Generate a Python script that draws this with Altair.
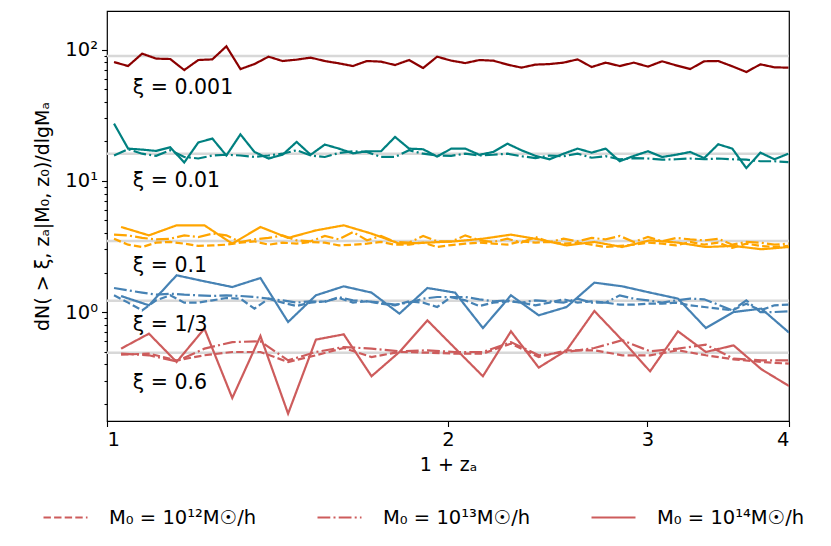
import altair as alt
import pandas as pd

# x grids (1 + z_a)
x_fine = [1.0144, 1.0438, 1.0740, 1.1051, 1.1371, 1.1700, 1.2039, 1.2388, 1.2746, 1.3116,
          1.3495, 1.3886, 1.4289, 1.4702, 1.5128, 1.5570, 1.6021, 1.6485, 1.6962, 1.7453,
          1.7959, 1.8479, 1.9014, 1.9564, 2.0131, 2.0714, 2.1314, 2.1931, 2.2566, 2.3219,
          2.3892, 2.4583, 2.5295, 2.6028, 2.6781, 2.7557, 2.8355, 2.9184, 3.0029, 3.0903,
          3.1798, 3.2718, 3.3666, 3.4641, 3.5645, 3.6677, 3.7739, 3.8832, 3.9957]
x_coarse = [1.029, 1.089, 1.152, 1.219, 1.290, 1.366, 1.445, 1.529, 1.618, 1.712,
            1.812, 1.918, 2.029, 2.147, 2.273, 2.405, 2.545, 2.693, 2.850, 3.016,
            3.192, 3.378, 3.574, 3.782, 4.0]

# xi = 0.001
dr_m14 = [80.4, 75.0, 93.2, 85.4, 84.8, 69.9, 83.3, 84.3, 106, 71.1,
          77.6, 88.4, 81.9, 83.9, 86.9, 81.9, 78.6, 75.0, 81.9, 81.0,
          76.3, 83.3, 72.4, 88.4, 82.4, 79.0, 83.3, 82.4, 76.9, 72.9,
          76.9, 77.6, 79.6, 84.3, 73.7, 79.6, 75.0, 79.6, 74.2, 81.5,
          75.9, 71.1, 81.5, 81.9, 74.6, 67.5, 77.3, 73.3, 72.9]
# xi = 0.01
teal_m13 = [15.6, 17.4, 16.1, 15.5, 17.1, 15.2, 14.8, 15.6, 15.8, 15.6,
            15.2, 15.6, 16.1, 17.1, 15.6, 15.2, 16.3, 16.8, 16.6, 15.2,
            15.2, 17.1, 16.1, 15.6, 15.5, 16.1, 15.6, 15.8, 16.1, 15.4,
            14.9, 15.6, 15.4, 16.1, 15.0, 15.4, 14.6, 14.9, 14.8, 14.5,
            14.6, 14.8, 14.6, 14.8, 14.6, 14.5, 14.1, 14.1, 13.9]
teal_m14 = [27.3, 17.6, 17.3, 16.9, 18.0, 13.8, 19.6, 21.0, 15.6, 22.6,
            16.6, 14.8, 15.8, 19.8, 15.8, 18.9, 17.6, 16.2, 16.8, 16.8,
            21.6, 17.6, 17.4, 15.3, 17.6, 17.6, 15.8, 16.6, 19.2, 17.1,
            15.5, 14.6, 16.1, 17.6, 16.4, 17.6, 14.1, 15.5, 16.8, 15.2,
            15.8, 16.6, 14.9, 19.0, 17.6, 12.5, 16.4, 14.6, 16.1]
# xi = 0.1
or_m12 = [3.62, 3.26, 3.13, 3.38, 3.42, 3.32, 3.19, 3.22, 3.26, 3.38,
          3.46, 3.26, 3.38, 3.32, 3.42, 3.38, 3.22, 3.26, 3.32, 3.42,
          3.26, 3.26, 3.38, 3.13, 3.24, 3.32, 3.38, 3.32, 3.26, 3.46,
          3.38, 3.42, 3.32, 3.38, 3.26, 3.13, 3.19, 3.26, 3.38, 3.32,
          3.22, 3.42, 3.26, 3.38, 3.08, 3.32, 3.19, 3.13, 3.19]
or_m13 = [3.89, 3.84, 3.67, 3.58, 3.62, 3.84, 3.73, 3.96, 3.84, 3.42,
          3.58, 3.67, 3.84, 3.52, 3.46, 3.80, 3.58, 4.07, 3.52, 3.80,
          3.42, 3.38, 3.80, 3.46, 3.44, 3.84, 3.52, 3.42, 3.62, 3.38,
          3.73, 3.42, 3.62, 3.46, 3.67, 3.58, 3.80, 3.42, 3.73, 3.46,
          3.67, 3.58, 3.52, 3.62, 3.26, 3.42, 3.38, 3.26, 3.32]
or_m14 = [4.45, 3.84, 4.58, 4.58, 3.32, 4.45, 3.67, 4.19, 4.58, 3.96,
          3.32, 3.38, 3.46, 3.62, 3.89, 3.58, 3.22, 3.42, 3.13, 3.52,
          3.38, 3.13, 3.19, 3.01, 3.13]
# xi = 1/3
bl_m12 = [1.341, 1.179, 1.030, 1.228, 1.341, 1.179, 1.179, 1.228, 1.279, 1.264,
          1.061, 1.264, 1.179, 1.112, 1.179, 1.207, 1.279, 1.179, 1.207, 1.158,
          1.125, 1.207, 1.179, 1.092, 1.300, 1.228, 1.112, 1.179, 1.207, 1.179,
          1.125, 1.179, 1.250, 1.179, 1.207, 1.179, 1.138, 1.138, 1.158, 1.158,
          1.179, 1.125, 1.092, 1.061, 1.030, 1.158, 1.030, 1.125, 1.138]
bl_m13 = [1.525, 1.463, 1.405, 1.356, 1.380, 1.356, 1.341, 1.325, 1.341, 1.325,
          1.302, 1.264, 1.228, 1.179, 1.207, 1.192, 1.302, 1.228, 1.207, 1.179,
          1.138, 1.179, 1.264, 1.302, 1.300, 1.302, 1.250, 1.207, 1.228, 1.179,
          1.228, 1.207, 1.179, 1.264, 1.179, 1.179, 1.341, 1.264, 1.228, 1.179,
          1.228, 1.264, 1.250, 1.138, 1.030, 1.228, 1.000, 1.000, 1.012]
bl_m14 = [1.324, 1.125, 1.905, 1.714, 1.551, 1.816, 0.839, 1.341, 1.570, 1.406,
          0.972, 1.524, 1.406, 0.755, 1.341, 0.944, 1.092, 1.675, 1.570, 1.406,
          1.265, 0.755, 1.000, 1.061, 0.697]
# xi = 0.6
rd_m12 = [0.473, 0.482, 0.428, 0.468, 0.496, 0.496, 0.416, 0.468, 0.532, 0.454,
          0.496, 0.490, 0.482, 0.482, 0.574, 0.454, 0.511, 0.511, 0.468, 0.468,
          0.511, 0.468, 0.436, 0.416, 0.404]
rd_m13 = [0.482, 0.468, 0.421, 0.526, 0.590, 0.598, 0.428, 0.496, 0.541, 0.526,
          0.502, 0.511, 0.496, 0.496, 0.590, 0.468, 0.496, 0.532, 0.609, 0.502,
          0.526, 0.564, 0.441, 0.428, 0.428]
rd_m14 = [0.526, 0.684, 0.416, 0.747, 0.221, 0.656, 0.168, 0.616, 0.676, 0.324,
          0.496, 0.864, 0.529, 0.324, 0.713, 0.377, 0.511, 1.018, 0.609, 0.353,
          0.713, 0.496, 0.557, 0.366, 0.273]

# reference (gray) levels
ref_levels = [89.4, 16.1, 3.48, 1.22, 0.49]

xi_names = ["0.001", "0.01", "0.1", "1/3", "0.6"]
xi_colors = ["#8B0000", "#008080", "#FFA500", "#4682B4", "#CD5C5C"]
xi_label_text = ["ξ = 0.001", "ξ = 0.01", "ξ = 0.1", "ξ = 1/3", "ξ = 0.6"]
xi_label_x = [1.054, 1.054, 1.054, 1.054, 1.054]
xi_label_y = [50.7, 9.9, 2.23, 0.79, 0.286]

m_names = ["M₀ = 10¹²M☉/h", "M₀ = 10¹³M☉/h", "M₀ = 10¹⁴M☉/h"]

series = [
    ("0.001", 2, x_fine, dr_m14),
    ("0.01", 1, x_fine, teal_m13),
    ("0.01", 2, x_fine, teal_m14),
    ("0.1", 0, x_fine, or_m12),
    ("0.1", 1, x_fine, or_m13),
    ("0.1", 2, x_coarse, or_m14),
    ("1/3", 0, x_fine, bl_m12),
    ("1/3", 1, x_fine, bl_m13),
    ("1/3", 2, x_coarse, bl_m14),
    ("0.6", 0, x_coarse, rd_m12),
    ("0.6", 1, x_coarse, rd_m13),
    ("0.6", 2, x_coarse, rd_m14),
]
rows = []
for xi, mi, xs, ys in series:
    for xv, yv in zip(xs, ys):
        rows.append({"xi": xi, "M0": m_names[mi], "x": xv, "y": yv})
df = pd.DataFrame(rows)
ref_df = pd.DataFrame({"y": ref_levels})
lab_df = pd.DataFrame({"x": xi_label_x, "y": xi_label_y, "t": xi_label_text})

FONT = "DejaVu Sans"
xscale = alt.Scale(type="log", domain=[1, 4], nice=False)
yscale = alt.Scale(type="log", domain=[0.1477, 197], nice=False)

yticks = [0.2, 0.3, 0.4, 0.5, 0.6, 0.7, 0.8, 0.9, 1, 2, 3, 4, 5, 6, 7, 8, 9,
          10, 20, 30, 40, 50, 60, 70, 80, 90, 100]

yaxis = alt.Axis(
    values=yticks,
    labelExpr="datum.value == 100 ? '10²' : datum.value == 10 ? '10¹' : datum.value == 1 ? '10⁰' : ''",
    tickSize={"condition": {"test": "datum.value == 1 || datum.value == 10 || datum.value == 100", "value": 5.5}, "value": 3},
    title="dN( > ξ, zₐ|M₀, z₀)/dlgMₐ",
    titlePadding=12,
    labelPadding=4,
    labelOverlap=False,
    grid=False,
    domain=False,
    labelFontSize=19.5, titleFontSize=19,
)
xaxis = alt.Axis(values=[1, 2, 3, 4], format="d", title="1 + zₐ", tickSize=5.5,
                 labelPadding=4, titlePadding=6, labelOverlap=False,
                 grid=False, domain=False, labelFontSize=19.5, titleFontSize=19)

rules = alt.Chart(ref_df).mark_rule(color="#d8d8d8", strokeWidth=2.5).encode(
    y=alt.Y("y:Q", scale=yscale, axis=yaxis)
)

lines = alt.Chart(df).mark_line(strokeWidth=2.2, clip=True).encode(
    x=alt.X("x:Q", scale=xscale, axis=xaxis),
    y=alt.Y("y:Q", scale=yscale),
    color=alt.Color("xi:N", scale=alt.Scale(domain=xi_names, range=xi_colors), legend=None),
    strokeDash=alt.StrokeDash(
        "M0:N",
        scale=alt.Scale(domain=m_names, range=[[7.4, 3.2], [12.8, 3.2, 2, 3.2], [1, 0]]),
        legend=alt.Legend(
            orient="none", legendX=-65, legendY=483, direction="horizontal", title=None,
            symbolType="stroke", symbolStrokeColor="#CD5C5C", symbolStrokeWidth=2.2,
            symbolSize=1936, labelFontSize=19.5, labelFont=FONT, labelOffset=20,
            columnPadding=56, labelLimit=0, labelColor="black", padding=0,
        ),
    ),
    order=alt.Order("x:Q"),
)

texts = alt.Chart(lab_df).mark_text(align="left", baseline="middle", fontSize=20.5,
                                    font=FONT, color="black").encode(
    x=alt.X("x:Q", scale=xscale),
    y=alt.Y("y:Q", scale=yscale),
    text="t:N",
)

chart = alt.layer(rules, lines, texts).properties(
    width=682, height=410,
    background="white",
    padding={"left": 25, "top": 3, "right": 0, "bottom": 5},
).configure_view(stroke="black", strokeWidth=1.2).configure_axis(
    domain=False, grid=False, tickColor="black", tickWidth=1.1,
    labelFont=FONT, titleFont=FONT, labelFontSize=19.5, titleFontSize=19,
    labelColor="black", titleColor="black", titleFontWeight="normal",
)

chart.save("out.html", embed_options={"renderer": "svg", "actions": False})
